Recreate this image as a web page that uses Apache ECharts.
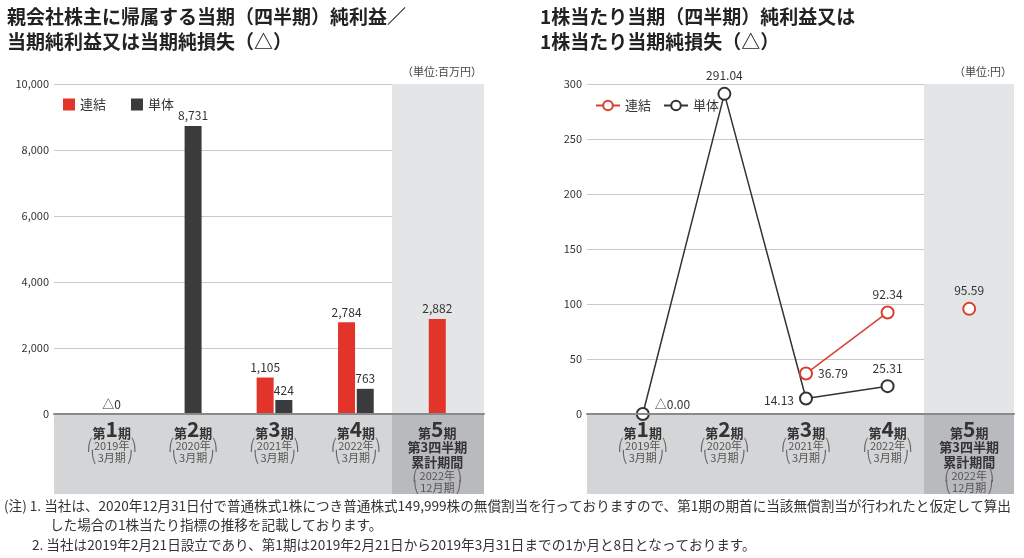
<!DOCTYPE html>
<html><head><meta charset="utf-8">
<script src="https://cdn.jsdelivr.net/npm/echarts@6/dist/echarts.min.js"></script>
<style>
html,body{margin:0;padding:0;background:#fff;width:1024px;height:558px;overflow:hidden}
#a{position:absolute;left:0;top:0;width:1024px;height:558px}
#b{position:absolute;left:512px;top:0;width:512px;height:500px}
</style></head><body>
<div id="a"></div><div id="b"></div>
<script>
// ---- data ----
const periods = ['第1期','第2期','第3期','第4期','第5期'];
const periodNums = ['1','2','3','4','5'];
const periodSub = [['2019年','3月期'],['2020年','3月期'],['2021年','3月期'],['2022年','3月期'],['2022年','12月期']];
const period5Extra = ['第3四半期','累計期間'];
const netIncomeConsolidated = [null, null, 1105, 2784, 2882];
const netIncomeStandalone = [0, 8731, 424, 763, null];
const epsConsolidated = [null, null, 36.79, 92.34, 95.59];
const epsStandalone = [0.00, 291.04, 14.13, 25.31, null];
const leftTicks = {min: 0, max: 10000, interval: 2000};
const rightTicks = {min: 0, max: 300, interval: 50};
const titleLeft = '親会社株主に帰属する当期（四半期）純利益／\n当期純利益又は当期純損失（△）';
const titleRight = '1株当たり当期（四半期）純利益又は\n1株当たり当期純損失（△）';
const unitLeft = '（単位:百万円）';
const unitRight = '（単位:円）';
const notes = [
 '(注) 1. 当社は、2020年12月31日付で普通株式1株につき普通株式149,999株の無償割当を行っておりますので、第1期の期首に当該無償割当が行われたと仮定して算出',
 'した場合の1株当たり指標の推移を記載しております。',
 '2. 当社は2019年2月21日設立であり、第1期は2019年2月21日から2019年3月31日までの1か月と8日となっております。'
];

const FF = '"Noto Sans CJK JP","Noto Sans",sans-serif';
const RED = '#e3342a', DARK = '#3a3b3d', LINEDARK = '#333333', LINERED = '#d9402f';
const GRID_LINE = '#c9c9c9', BASE_LINE = '#8a8a8a';
const BAND = '#d4d5d7', BAND5 = '#b9babd', SHADE5 = '#e4e5e7';

function catFormatter(value, idx) {
  const i = periods.indexOf(value);
  let s = '{a|第}{b|' + periodNums[i] + '}{a|期}';
  if (i === 4) s += '\n' + period5Extra.map(t => '{c|' + t + '}').join('\n');
  s += '\n{p|⎛}{s|' + periodSub[i][0] + '}{p|⎞}\n{p|⎝}{s|' + periodSub[i][1] + '}{p|⎠}';
  return s;
}
const rich = {
  a: {fontFamily: FF, fontSize: 13, fontWeight: 'bold', color: '#333', lineHeight: 21, verticalAlign: 'bottom'},
  b: {fontFamily: FF, fontSize: 21, fontWeight: 'bold', color: '#333', lineHeight: 21, verticalAlign: 'bottom'},
  c: {fontFamily: FF, fontSize: 13, fontWeight: 'bold', color: '#333', lineHeight: 15},
  p: {fontFamily: '"DejaVu Sans"', fontSize: 12, color: '#666', lineHeight: 12},
  s: {fontFamily: FF, fontSize: 11, color: '#555', lineHeight: 12, padding: [0, 1, 0, 1]}
};

function frame(wide, data, shadeFrom, ticks, labelFmt) {
  return {
    grid: [
      {left: wide.left, width: wide.width, top: 84, height: 330},
      {left: data.left, width: data.width, top: 84, height: 330},
      {left: wide.left, width: wide.width, top: 414, height: 80, show: true, backgroundColor: BAND, borderWidth: 0}
    ],
    xAxis: [
      {gridIndex: 0, type: 'value', min: 0, max: 5, axisLine: {show: true, onZero: false, lineStyle: {color: BASE_LINE, width: 2}}, axisTick: {show: false}, axisLabel: {show: false}, splitLine: {show: false}, z: 6},
      {gridIndex: 1, type: 'category', data: periods, axisLine: {show: false}, axisTick: {show: false}, z: 10,
        axisLabel: {margin: 5, interval: 0, formatter: catFormatter, rich: rich}},
      {gridIndex: 1, type: 'category', data: periods, show: false},
      {gridIndex: 2, type: 'value', min: 0, max: 5, show: false}
    ],
    yAxis: [
      {gridIndex: 0, type: 'value', min: ticks.min, max: ticks.max, interval: ticks.interval,
        axisLine: {show: false}, axisTick: {show: false},
        axisLabel: {margin: 5, fontFamily: FF, fontSize: 11, color: '#333', formatter: labelFmt},
        splitLine: {lineStyle: {color: GRID_LINE, width: 1}}},
      {gridIndex: 1, type: 'value', min: ticks.min, max: ticks.max, show: false},
      {gridIndex: 2, type: 'value', min: 0, max: 1, show: false}
    ],
    shade: [
      {type: 'line', xAxisIndex: 0, yAxisIndex: 0, data: [], silent: true, z: -1,
        markArea: {silent: true, itemStyle: {color: SHADE5}, data: [[{xAxis: shadeFrom}, {xAxis: 5}]]}},
      {type: 'line', xAxisIndex: 3, yAxisIndex: 2, data: [], silent: true,
        markArea: {silent: true, itemStyle: {color: BAND5}, data: [[{xAxis: shadeFrom}, {xAxis: 5}]]}}
    ]
  };
}

// ---------- left chart ----------
const fa = frame({left: 54, width: 430}, {left: 71, width: 407}, 3.93, leftTicks, v => v.toLocaleString('en-US'));
const both = periods.map((p, i) => netIncomeConsolidated[i] != null && netIncomeStandalone[i] != null);
const barLabel = {show: true, position: 'top', distance: 4, fontFamily: FF, fontSize: 12, color: '#333',
  formatter: p => p.value === 0 ? '△0' : Number(p.value).toLocaleString('en-US')};
const pick = (arr, cond) => arr.map((v, i) => (v != null && cond(i)) ? v : '-');
const chartA = echarts.init(document.getElementById('a'), null, {renderer: 'canvas'});
chartA.setOption({
  animation: false,
  textStyle: {fontFamily: FF},
  grid: fa.grid, xAxis: fa.xAxis, yAxis: fa.yAxis,
  legend: {left: 58, top: 93, itemWidth: 12, itemHeight: 12, itemGap: 25,
    textStyle: {fontFamily: FF, fontSize: 13, color: '#333'},
    data: [{name: '連結', icon: 'rect'}, {name: '単体', icon: 'rect'}]},
  series: fa.shade.concat([
    {name: '連結', type: 'bar', xAxisIndex: 1, yAxisIndex: 1, barWidth: 17, barGap: '10%',
      itemStyle: {color: RED}, label: barLabel, data: pick(netIncomeConsolidated, i => both[i])},
    {name: '単体', type: 'bar', xAxisIndex: 1, yAxisIndex: 1, barWidth: 17, barGap: '10%',
      itemStyle: {color: DARK}, label: barLabel, data: pick(netIncomeStandalone, i => both[i])},
    {name: '連結', type: 'bar', xAxisIndex: 2, yAxisIndex: 1, barWidth: 17, barGap: '-100%',
      itemStyle: {color: RED}, label: barLabel, data: pick(netIncomeConsolidated, i => !both[i])},
    {name: '単体', type: 'bar', xAxisIndex: 2, yAxisIndex: 1, barWidth: 17, barGap: '-100%',
      itemStyle: {color: DARK}, label: barLabel, data: pick(netIncomeStandalone, i => !both[i])}
  ]),
  graphic: [
    {type: 'text', left: 7, top: 4, style: {text: titleLeft, fontFamily: FF, fontSize: 19, fontWeight: 'bold', fill: '#222', lineHeight: 25}},
    {type: 'text', right: 1024 - 482, top: 66, style: {text: unitLeft, fontFamily: FF, fontSize: 11, fill: '#444'}},
    {type: 'text', left: 4, top: 499, style: {text: notes[0], fontFamily: FF, fontSize: 13.6, fill: '#333'}},
    {type: 'text', left: 50, top: 518, style: {text: notes[1], fontFamily: FF, fontSize: 13.6, fill: '#333'}},
    {type: 'text', left: 32, top: 538, style: {text: notes[2], fontFamily: FF, fontSize: 13.6, fill: '#333'}}
  ]
});

// ---------- right chart ----------
const fb = frame({left: 75, width: 427}, {left: 90, width: 408}, 3.946, rightTicks, v => String(v));
const labelPos = [
  {position: 'right', offset: [0, -10], formatter: p => '△' + Number(p.value).toFixed(2)},
  {position: 'top'}, {position: 'left', offset: [0, 2]}, {position: 'top'}, {position: 'top'}
];
const labelPosRed = [{}, {}, {position: 'right'}, {position: 'top'}, {position: 'top'}];
const lblBase = {show: true, fontFamily: FF, fontSize: 12, color: '#333', formatter: p => Number(p.value).toFixed(2)};
function items(arr, cond, pos) {
  return arr.map((v, i) => (v != null && cond(i)) ? {value: v, label: Object.assign({}, lblBase, pos[i])} : '-');
}
const lastIdx = periods.length - 1;
const lineCommon = {type: 'line', xAxisIndex: 1, yAxisIndex: 1, symbol: 'emptyCircle', symbolSize: 12, connectNulls: false, z: 5};
const chartB = echarts.init(document.getElementById('b'), null, {renderer: 'canvas'});
chartB.setOption({
  animation: false,
  textStyle: {fontFamily: FF},
  grid: fb.grid, xAxis: fb.xAxis, yAxis: fb.yAxis,
  legend: {left: 78, top: 94, itemWidth: 24, itemHeight: 12, itemGap: 12,
    textStyle: {fontFamily: FF, fontSize: 13, color: '#333'},
    data: ['連結', '単体']},
  series: fb.shade.concat([
    Object.assign({}, lineCommon, {name: '連結', itemStyle: {color: LINERED, borderWidth: 2}, lineStyle: {color: LINERED, width: 1.5},
      data: items(epsConsolidated, i => i < lastIdx, labelPosRed)}),
    Object.assign({}, lineCommon, {name: '単体', itemStyle: {color: LINEDARK, borderWidth: 2}, lineStyle: {color: LINEDARK, width: 1.5},
      data: items(epsStandalone, i => true, labelPos)}),
    Object.assign({}, lineCommon, {name: '連結', itemStyle: {color: LINERED, borderWidth: 2}, lineStyle: {color: LINERED, width: 1.5},
      data: items(epsConsolidated, i => i === lastIdx, labelPosRed)})
  ]),
  graphic: [
    {type: 'text', left: 28, top: 4, style: {text: titleRight, fontFamily: FF, fontSize: 19, fontWeight: 'bold', fill: '#222', lineHeight: 25}},
    {type: 'text', right: 12, top: 66, style: {text: unitRight, fontFamily: FF, fontSize: 11, fill: '#444'}}
  ]
});
</script>
</body></html>
